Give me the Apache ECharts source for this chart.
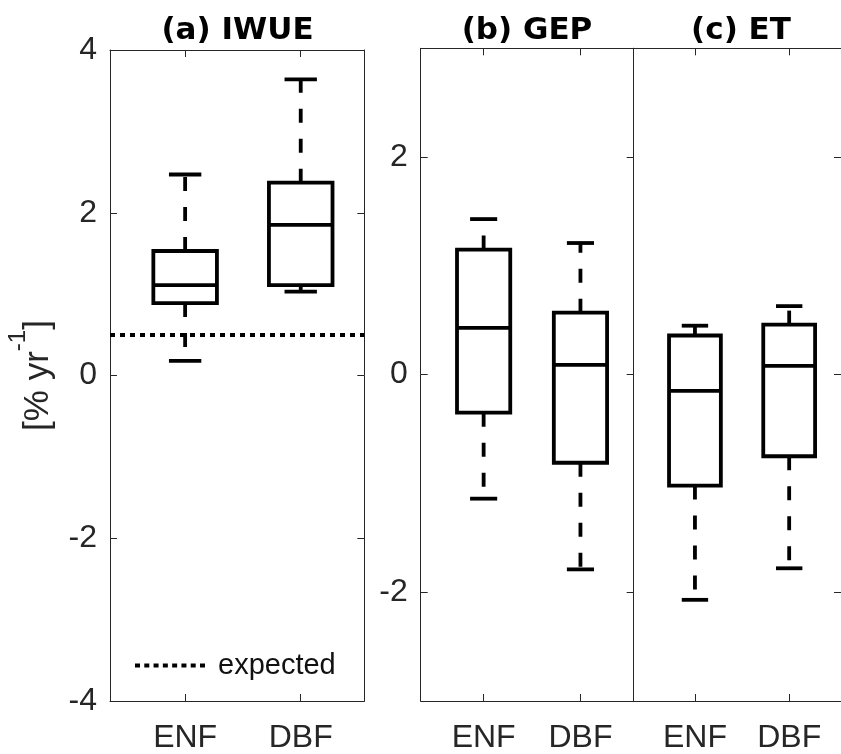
<!DOCTYPE html>
<html><head><meta charset="utf-8">
<script src="https://cdn.jsdelivr.net/npm/echarts@6/dist/echarts.min.js"></script>
<style>html,body{margin:0;padding:0;background:#fff}#c{width:841px;height:754px}</style>
</head><body><div id="c"></div>
<script>
// ---- data ----
const categories = ['ENF', 'DBF'];
const panelTitles = ['(a) IWUE', '(b) GEP', '(c) ET'];
// [lower whisker, Q1, median, Q3, upper whisker]
const iwueENF = [0.18, 0.89, 1.11, 1.53, 2.47];
const iwueDBF = [1.03, 1.11, 1.85, 2.37, 3.64];
const gepENF  = [-1.14, -0.35, 0.43, 1.15, 1.43];
const gepDBF  = [-1.79, -0.81, 0.09, 0.57, 1.21];
const etENF   = [-2.07, -1.02, -0.15, 0.36, 0.45];
const etDBF   = [-1.78, -0.75, 0.08, 0.46, 0.63];
const expectedIWUE = 0.5;
const yTicksA = [-4, -2, 0, 2, 4];
const yTicksBC = [-2, 0, 2];
const yRangeA = [-4, 4];
const yRangeBC = [-3, 3];
const xRange = [0.35, 2.55];

// ---- styling ----
const FONT = 'Liberation Sans, Arial, sans-serif';
const AX = '#262626';
const BOX_W = 0.55, CAP_W = 0.28, LW = 3.8;

function boxItem(params, api) {
  const x = api.value(0);
  const lo = api.coord([x, api.value(1)]);
  const q1 = api.coord([x, api.value(2)]);
  const md = api.coord([x, api.value(3)]);
  const q3 = api.coord([x, api.value(4)]);
  const hi = api.coord([x, api.value(5)]);
  const bw = api.size([BOX_W, 0])[0];
  const cw = api.size([CAP_W, 0])[0];
  const cx = q1[0];
  const solid = { stroke: '#000', lineWidth: LW, fill: null };
  const dashed = { stroke: '#000', lineWidth: LW, fill: null, lineDash: [14, 16] };
  return { type: 'group', children: [
    { type: 'line', shape: { x1: cx, y1: q3[1], x2: cx, y2: hi[1] }, style: dashed },
    { type: 'line', shape: { x1: cx, y1: q1[1], x2: cx, y2: lo[1] }, style: dashed },
    { type: 'line', shape: { x1: cx - cw / 2, y1: hi[1], x2: cx + cw / 2, y2: hi[1] }, style: solid },
    { type: 'line', shape: { x1: cx - cw / 2, y1: lo[1], x2: cx + cw / 2, y2: lo[1] }, style: solid },
    { type: 'rect', shape: { x: cx - bw / 2, y: q3[1], width: bw, height: q1[1] - q3[1] }, style: { stroke: '#000', lineWidth: LW, fill: 'none' } },
    { type: 'line', shape: { x1: cx - bw / 2, y1: md[1], x2: cx + bw / 2, y2: md[1] }, style: solid }
  ]};
}

function boxData(a, b) {
  return [[1].concat(a), [2].concat(b)];
}

const grids = [
  { left: 110, top: 50, width: 254.3, height: 652.7 },
  { left: 420.7, top: 48.3, width: 213, height: 654.4 },
  { left: 633.7, top: 48.3, width: 214, height: 654.4 }
];

function xAxes(gi) {
  const ticks = [1, 2];
  return [
    { gridIndex: gi, type: 'value', position: 'bottom', min: xRange[0], max: xRange[1],
      axisLine: { onZero: false, lineStyle: { color: AX, width: 1 } },
      axisTick: { inside: true, length: 7, customValues: ticks, lineStyle: { color: AX } },
      axisLabel: { customValues: ticks, formatter: v => categories[Math.round(v) - 1], fontSize: 32, fontFamily: FONT, color: AX, margin: 21 },
      splitLine: { show: false } },
    { gridIndex: gi, type: 'value', position: 'top', min: xRange[0], max: xRange[1],
      axisLine: { onZero: false, lineStyle: { color: AX, width: 1 } },
      axisTick: { inside: true, length: 7, customValues: ticks, lineStyle: { color: AX } },
      axisLabel: { show: false }, splitLine: { show: false } }
  ];
}

function yAxes(gi, range, ticks, showLeftLabels, showLeftTicks) {
  return [
    { gridIndex: gi, type: 'value', position: 'left', min: range[0], max: range[1],
      axisLine: { show: true, onZero: false, lineStyle: { color: AX, width: 1 } },
      axisTick: { show: showLeftTicks, inside: true, length: 7, customValues: ticks, lineStyle: { color: AX } },
      axisLabel: { show: showLeftLabels, customValues: ticks, fontSize: 32, fontFamily: FONT, color: AX, margin: 13 },
      splitLine: { show: false } },
    { gridIndex: gi, type: 'value', position: 'right', min: range[0], max: range[1],
      axisLine: { show: true, onZero: false, lineStyle: { color: AX, width: 1 } },
      axisTick: { inside: true, length: 7, customValues: ticks, lineStyle: { color: AX } },
      axisLabel: { show: false }, splitLine: { show: false } }
  ];
}

const xAxis = [].concat(xAxes(0), xAxes(1), xAxes(2));
const yAxis = [].concat(
  yAxes(0, yRangeA, yTicksA, true, true),
  yAxes(1, yRangeBC, yTicksBC, true, true),
  yAxes(2, yRangeBC, yTicksBC, false, false)
);
yAxis[0].name = '{m|[% yr}{s|-1}{m|]}';
yAxis[0].nameLocation = 'middle';
yAxis[0].nameRotate = 90;
yAxis[0].nameGap = 54;
yAxis[0].nameTextStyle = {
  color: AX,
  rich: {
    m: { fontSize: 35, fontFamily: FONT, color: AX, verticalAlign: 'bottom' },
    s: { fontSize: 24, fontFamily: FONT, color: AX, verticalAlign: 'top', padding: [0, 0, 26, 0] }
  }
};

// dotted legend icon (8 short dashes)
let iconPath = 'path://';
for (let i = 0; i < 8; i++) { const x0 = i * 9.3; iconPath += 'M' + x0 + ',0h5v4h-5z'; }

const titleCenters = [237.5, 527, 741];
const titleStyle = { fontSize: 31, fontWeight: 'bold', fontFamily: 'DejaVu Sans, sans-serif', color: '#000' };

const option = {
  animation: false,
  backgroundColor: '#fff',
  title: panelTitles.map((t, i) => ({ text: t, left: titleCenters[i], top: 15, textAlign: 'center', padding: 0, textStyle: titleStyle })),
  grid: grids,
  xAxis: xAxis,
  yAxis: yAxis,
  legend: {
    data: [{ name: 'expected', icon: iconPath }], left: 135, top: 651, padding: 0,
    itemWidth: 70, itemHeight: 4, selectedMode: false,
    itemStyle: { color: '#000', borderWidth: 0 },
    textStyle: { fontSize: 29, fontFamily: FONT, color: '#111', padding: [0, 0, 0, 8] }
  },
  series: [
    { type: 'custom', name: 'IWUE', xAxisIndex: 0, yAxisIndex: 0, renderItem: boxItem,
      encode: { x: 0, y: [1, 2, 3, 4, 5] }, data: boxData(iwueENF, iwueDBF) },
    { type: 'custom', name: 'GEP', xAxisIndex: 2, yAxisIndex: 2, renderItem: boxItem,
      encode: { x: 0, y: [1, 2, 3, 4, 5] }, data: boxData(gepENF, gepDBF) },
    { type: 'custom', name: 'ET', xAxisIndex: 4, yAxisIndex: 4, renderItem: boxItem,
      encode: { x: 0, y: [1, 2, 3, 4, 5] }, data: boxData(etENF, etDBF) },
    { type: 'line', name: 'expected', xAxisIndex: 0, yAxisIndex: 0, data: [], symbol: 'none',
      itemStyle: { color: '#000' },
      lineStyle: { color: '#000', width: 4, type: [5, 5] },
      markLine: { silent: true, symbol: 'none', label: { show: false },
        lineStyle: { color: '#000', width: 4, type: [5, 5] },
        data: [{ yAxis: expectedIWUE }] } }
  ]
};

const chart = echarts.init(document.getElementById('c'), null, { renderer: 'canvas' });
chart.setOption(option);
</script>
</body></html>
